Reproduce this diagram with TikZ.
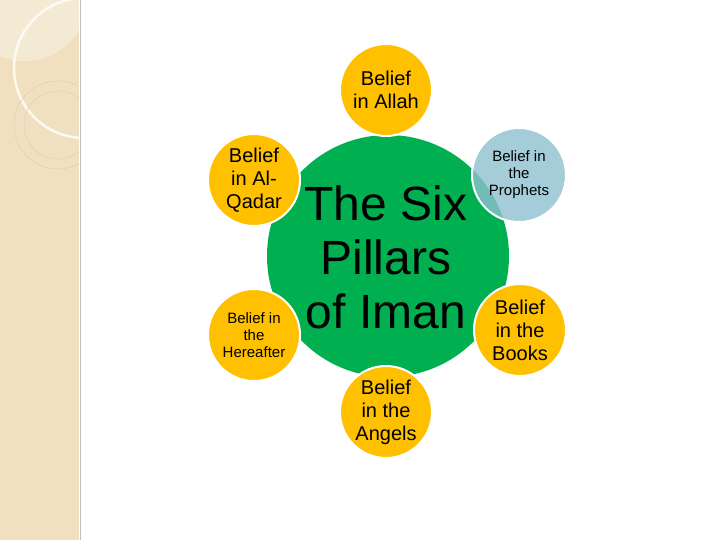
\documentclass[tikz,border=0pt]{standalone}
\usepackage{fontspec}
\setmainfont{Liberation Sans}
\definecolor{pyel}{HTML}{FFC000}
\definecolor{pgrn}{HTML}{00B050}
\definecolor{pblu}{HTML}{8EC0D0}
\definecolor{stripe}{HTML}{F0E0C0}
\begin{document}
\begin{tikzpicture}[x=1pt,y=-1pt,
  pillar/.style={circle,fill=pyel,draw=white,line width=2pt,minimum size=92pt,inner sep=0pt,align=center,font=\fontsize{20}{23}\selectfont},
  small/.style={font=\fontsize{15}{17}\selectfont}]
\useasboundingbox (0,0) rectangle (720,540);
\fill[white] (0,0) rectangle (720,540);
\begin{scope}
\clip (0,0) rectangle (79,540);
\fill[stripe] (0,0) rectangle (79,540);
\fill[white,opacity=0.3] (25,-2) circle (63);
\draw[white,line width=2.5pt,opacity=0.8] (84,68) circle (70);
\draw[brown!40,line width=0.5pt] (58,125) circle (44);
\draw[brown!40,line width=0.5pt] (58,125) circle (34);
\end{scope}
\draw[gray!50,line width=0.8pt] (80,0) -- (80,540);
\node[circle,fill=pgrn,minimum size=242pt,inner sep=0pt] (c) at (388,256) {};
\node[pillar] (allah) at (386,90) {Belief\\in Allah};
\node[pillar] (qadar) at (254,180) {Belief\\in Al-\\Qadar};
\node[pillar,small] (here) at (254,335) {Belief in\\the\\Hereafter};
\node[pillar] (angels) at (386,412) {Belief\\in the\\Angels};
\node[pillar] (books) at (520,330) {Belief\\in the\\Books};
\node[align=center,font=\fontsize{48}{54}\selectfont] (t) at (386,257) {The Six\\Pillars\\of Iman};
\node[pillar,fill=pblu,fill opacity=0.8,text opacity=1,small,minimum size=94pt] (proph) at (519,175) {Belief in\\the\\Prophets};
\end{tikzpicture}
\end{document}
